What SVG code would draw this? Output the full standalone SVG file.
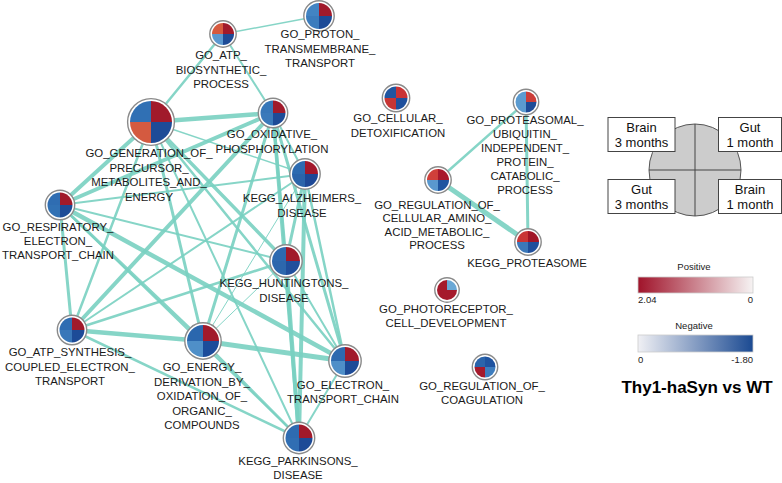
<svg xmlns="http://www.w3.org/2000/svg" xmlns:xlink="http://www.w3.org/1999/xlink" width="782" height="483" viewBox="0 0 782 483">
<style>
.lbl{font-family:"Liberation Sans",Arial,sans-serif;font-size:11.4px;fill:#1a1a1a;text-anchor:middle}
.ring{fill:#fff;stroke:#8a8a8a;stroke-width:1.4}
.e{stroke:#79d0c1;stroke-linecap:round;fill:none;opacity:0.9}
.box{fill:#fff;stroke:#444;stroke-width:1}
.lg{font-family:"Liberation Sans",Arial,sans-serif;font-size:13px;fill:#111;text-anchor:middle}
.sm{font-family:"Liberation Sans",Arial,sans-serif;font-size:9.5px;fill:#222}
</style>
<defs>
<path id="qTL" d="M0,0 L-1,0 A1,1 0 0 1 0,-1 Z"/>
<path id="qTR" d="M0,0 L0,-1 A1,1 0 0 1 1,0 Z"/>
<path id="qBR" d="M0,0 L1,0 A1,1 0 0 1 0,1 Z"/>
<path id="qBL" d="M0,0 L0,1 A1,1 0 0 1 -1,0 Z"/>
<linearGradient id="gPos" x1="0" x2="1" y1="0" y2="0"><stop offset="0" stop-color="#a0132a"/><stop offset="1" stop-color="#f6f3f3"/></linearGradient>
<linearGradient id="gNeg" x1="0" x2="1" y1="0" y2="0"><stop offset="0" stop-color="#f0f0f4"/><stop offset="1" stop-color="#1b4a92"/></linearGradient>
</defs>
<rect width="782" height="483" fill="#fff"/>
<g id="connectors">
<line class="e" x1="223" y1="34" x2="319" y2="16" stroke-width="1.5"/>
<line class="e" x1="223" y1="34" x2="151" y2="122" stroke-width="2.5"/>
<line class="e" x1="223" y1="34" x2="273" y2="113" stroke-width="2"/>
<line class="e" x1="151" y1="122" x2="273" y2="113" stroke-width="4.5"/>
<line class="e" x1="151" y1="122" x2="305" y2="174" stroke-width="1.5"/>
<line class="e" x1="151" y1="122" x2="60" y2="205" stroke-width="4"/>
<line class="e" x1="151" y1="122" x2="72" y2="330" stroke-width="2.5"/>
<line class="e" x1="151" y1="122" x2="203" y2="341" stroke-width="3"/>
<line class="e" x1="151" y1="122" x2="286" y2="261" stroke-width="3.5"/>
<line class="e" x1="151" y1="122" x2="345" y2="361" stroke-width="2.5"/>
<line class="e" x1="151" y1="122" x2="299" y2="438" stroke-width="2"/>
<line class="e" x1="273" y1="113" x2="60" y2="205" stroke-width="4"/>
<line class="e" x1="273" y1="113" x2="72" y2="330" stroke-width="4"/>
<line class="e" x1="273" y1="113" x2="203" y2="341" stroke-width="3"/>
<line class="e" x1="273" y1="113" x2="305" y2="174" stroke-width="2"/>
<line class="e" x1="273" y1="113" x2="286" y2="261" stroke-width="3"/>
<line class="e" x1="273" y1="113" x2="345" y2="361" stroke-width="3"/>
<line class="e" x1="273" y1="113" x2="299" y2="438" stroke-width="3.5"/>
<line class="e" x1="305" y1="174" x2="60" y2="205" stroke-width="2"/>
<line class="e" x1="305" y1="174" x2="72" y2="330" stroke-width="2"/>
<line class="e" x1="305" y1="174" x2="203" y2="341" stroke-width="1"/>
<line class="e" x1="305" y1="174" x2="286" y2="261" stroke-width="3"/>
<line class="e" x1="305" y1="174" x2="345" y2="361" stroke-width="2.5"/>
<line class="e" x1="305" y1="174" x2="299" y2="438" stroke-width="4"/>
<line class="e" x1="286" y1="261" x2="60" y2="205" stroke-width="2"/>
<line class="e" x1="286" y1="261" x2="72" y2="330" stroke-width="2.5"/>
<line class="e" x1="286" y1="261" x2="203" y2="341" stroke-width="1"/>
<line class="e" x1="286" y1="261" x2="345" y2="361" stroke-width="2"/>
<line class="e" x1="286" y1="261" x2="299" y2="438" stroke-width="4"/>
<line class="e" x1="60" y1="205" x2="72" y2="330" stroke-width="3"/>
<line class="e" x1="60" y1="205" x2="203" y2="341" stroke-width="3"/>
<line class="e" x1="60" y1="205" x2="345" y2="361" stroke-width="4.5"/>
<line class="e" x1="60" y1="205" x2="299" y2="438" stroke-width="2"/>
<line class="e" x1="72" y1="330" x2="203" y2="341" stroke-width="4.5"/>
<line class="e" x1="72" y1="330" x2="299" y2="438" stroke-width="2.5"/>
<line class="e" x1="203" y1="341" x2="345" y2="361" stroke-width="5"/>
<line class="e" x1="203" y1="341" x2="299" y2="438" stroke-width="2.5"/>
<line class="e" x1="345" y1="361" x2="299" y2="438" stroke-width="2"/>
<line class="e" x1="438" y1="180" x2="526" y2="102" stroke-width="2.5"/>
<line class="e" x1="438" y1="180" x2="528" y2="242" stroke-width="5"/>
<line class="e" x1="526" y1="102" x2="528" y2="242" stroke-width="3"/>
</g>
<g id="n_proton"><circle class="ring" cx="319" cy="16" r="15.2"/><g transform="translate(319,16) scale(13)"><use href="#qTL" fill="#4284c3"/><use href="#qTR" fill="#a11a2b"/><use href="#qBL" fill="#3b7cbd"/><use href="#qBR" fill="#1d4b97"/></g>
<text class="lbl" x="320" y="38"><tspan x="320">GO_PROTON_</tspan><tspan x="320" dy="14.5">TRANSMEMBRANE_</tspan><tspan x="320" dy="14.5">TRANSPORT</tspan></text></g>
<g id="n_atpbio"><circle class="ring" cx="223" cy="34" r="13.2"/><g transform="translate(223,34) scale(11)"><use href="#qTL" fill="#d75a3e"/><use href="#qTR" fill="#a11a2b"/><use href="#qBL" fill="#5b98cf"/><use href="#qBR" fill="#1d4b97"/></g>
<text class="lbl" x="221" y="59"><tspan x="221">GO_ATP_</tspan><tspan x="221" dy="14.5">BIOSYNTHETIC_</tspan><tspan x="221" dy="14.5">PROCESS</tspan></text></g>
<g id="n_generation"><circle class="ring" cx="151" cy="122" r="23.4"/><g transform="translate(151,122) scale(21)"><use href="#qTL" fill="#3070b4"/><use href="#qTR" fill="#a11a2b"/><use href="#qBL" fill="#d45a40"/><use href="#qBR" fill="#1d4b97"/></g>
<text class="lbl" x="149" y="157"><tspan x="149">GO_GENERATION_OF_</tspan><tspan x="149" dy="14.5">PRECURSOR_</tspan><tspan x="149" dy="14.5">METABOLITES_AND_</tspan><tspan x="149" dy="14.5">ENERGY</tspan></text></g>
<g id="n_oxidative"><circle class="ring" cx="273" cy="113" r="14.7"/><g transform="translate(273,113) scale(12.5)"><use href="#qTL" fill="#3776b8"/><use href="#qTR" fill="#a11a2b"/><use href="#qBL" fill="#3a79ba"/><use href="#qBR" fill="#1d4b97"/></g>
<text class="lbl" x="272" y="138"><tspan x="272">GO_OXIDATIVE_</tspan><tspan x="272" dy="14.5">PHOSPHORYLATION</tspan></text></g>
<g id="n_alzheimers"><circle class="ring" cx="305" cy="174" r="15.2"/><g transform="translate(305,174) scale(13)"><use href="#qTL" fill="#2d6ab0"/><use href="#qTR" fill="#a3182b"/><use href="#qBL" fill="#2b64aa"/><use href="#qBR" fill="#1d4896"/></g>
<text class="lbl" x="302" y="202"><tspan x="302">KEGG_ALZHEIMERS_</tspan><tspan x="302" dy="14.5">DISEASE</tspan></text></g>
<g id="n_huntingtons"><circle class="ring" cx="286" cy="261" r="16.2"/><g transform="translate(286,261) scale(14)"><use href="#qTL" fill="#2e6ab0"/><use href="#qTR" fill="#a11a2b"/><use href="#qBL" fill="#2d67ad"/><use href="#qBR" fill="#214f9c"/></g>
<text class="lbl" x="284" y="287"><tspan x="284">KEGG_HUNTINGTONS_</tspan><tspan x="284" dy="14.5">DISEASE</tspan></text></g>
<g id="n_respiratory"><circle class="ring" cx="60" cy="205" r="14.7"/><g transform="translate(60,205) scale(12.5)"><use href="#qTL" fill="#2f6db2"/><use href="#qTR" fill="#a11a2b"/><use href="#qBL" fill="#3171b4"/><use href="#qBR" fill="#1d4b97"/></g>
<text class="lbl" x="58" y="231"><tspan x="58">GO_RESPIRATORY_</tspan><tspan x="58" dy="14">ELECTRON_</tspan><tspan x="58" dy="14">TRANSPORT_CHAIN</tspan></text></g>
<g id="n_atpsynth"><circle class="ring" cx="72" cy="330" r="14.7"/><g transform="translate(72,330) scale(12.5)"><use href="#qTL" fill="#2f6db2"/><use href="#qTR" fill="#a11a2b"/><use href="#qBL" fill="#3977b9"/><use href="#qBR" fill="#1d4b97"/></g>
<text class="lbl" x="70" y="356"><tspan x="70">GO_ATP_SYNTHESIS_</tspan><tspan x="70" dy="14.5">COUPLED_ELECTRON_</tspan><tspan x="70" dy="14.5">TRANSPORT</tspan></text></g>
<g id="n_energy"><circle class="ring" cx="203" cy="341" r="18.2"/><g transform="translate(203,341) scale(16)"><use href="#qTL" fill="#2b67ae"/><use href="#qTR" fill="#a11a2b"/><use href="#qBL" fill="#4f8fc8"/><use href="#qBR" fill="#1c4c9a"/></g>
<text class="lbl" x="202" y="371"><tspan x="202">GO_ENERGY_</tspan><tspan x="202" dy="14.5">DERIVATION_BY_</tspan><tspan x="202" dy="14.5">OXIDATION_OF_</tspan><tspan x="202" dy="14.5">ORGANIC_</tspan><tspan x="202" dy="14.5">COMPOUNDS</tspan></text></g>
<g id="n_etc"><circle class="ring" cx="345" cy="361" r="16.2"/><g transform="translate(345,361) scale(14)"><use href="#qTL" fill="#2d69af"/><use href="#qTR" fill="#a11a2b"/><use href="#qBL" fill="#4f8fc8"/><use href="#qBR" fill="#1d4b97"/></g>
<text class="lbl" x="343" y="389"><tspan x="343">GO_ELECTRON_</tspan><tspan x="343" dy="14">TRANSPORT_CHAIN</tspan></text></g>
<g id="n_parkinsons"><circle class="ring" cx="299" cy="438" r="15.7"/><g transform="translate(299,438) scale(13.5)"><use href="#qTL" fill="#2e6bb1"/><use href="#qTR" fill="#a11a2b"/><use href="#qBL" fill="#306eb3"/><use href="#qBR" fill="#1d4b97"/></g>
<text class="lbl" x="298" y="465"><tspan x="298">KEGG_PARKINSONS_</tspan><tspan x="298" dy="14">DISEASE</tspan></text></g>
<g id="n_detox"><circle class="ring" cx="396" cy="98" r="13.7"/><g transform="translate(396,98) scale(11.5)"><use href="#qTL" fill="#1f55a0"/><use href="#qTR" fill="#c93234"/><use href="#qBL" fill="#c63534"/><use href="#qBR" fill="#1e4f9c"/></g>
<text class="lbl" x="398" y="122"><tspan x="398">GO_CELLULAR_</tspan><tspan x="398" dy="14.5">DETOXIFICATION</tspan></text></g>
<g id="n_proteasomal"><circle class="ring" cx="526" cy="102" r="12.7"/><g transform="translate(526,102) scale(10.5)"><use href="#qTL" fill="#5b9bd0"/><use href="#qTR" fill="#cc3d38"/><use href="#qBL" fill="#5b9bd0"/><use href="#qBR" fill="#1d4b97"/></g>
<text class="lbl" x="525" y="124"><tspan x="525">GO_PROTEASOMAL_</tspan><tspan x="525" dy="14">UBIQUITIN_</tspan><tspan x="525" dy="14">INDEPENDENT_</tspan><tspan x="525" dy="14">PROTEIN_</tspan><tspan x="525" dy="14">CATABOLIC_</tspan><tspan x="525" dy="14">PROCESS</tspan></text></g>
<g id="n_regamino"><circle class="ring" cx="438" cy="180" r="13.2"/><g transform="translate(438,180) scale(11)"><use href="#qTL" fill="#d0403a"/><use href="#qTR" fill="#a8182b"/><use href="#qBL" fill="#5a98ce"/><use href="#qBR" fill="#1f55a0"/></g>
<text class="lbl" x="437" y="209"><tspan x="437">GO_REGULATION_OF_</tspan><tspan x="437" dy="13.3">CELLULAR_AMINO_</tspan><tspan x="437" dy="13.3">ACID_METABOLIC_</tspan><tspan x="437" dy="13.3">PROCESS</tspan></text></g>
<g id="n_keggproteasome"><circle class="ring" cx="528" cy="242" r="13.2"/><g transform="translate(528,242) scale(11)"><use href="#qTL" fill="#c93535"/><use href="#qTR" fill="#a11526"/><use href="#qBL" fill="#3b78b9"/><use href="#qBR" fill="#1f4f9c"/></g>
<text class="lbl" x="527" y="267">KEGG_PROTEASOME</text></g>
<g id="n_photoreceptor"><circle class="ring" cx="447" cy="290" r="12.2"/><g transform="translate(447,290) scale(10)"><use href="#qTL" fill="#a51a2c"/><use href="#qTR" fill="#6aa8d6"/><use href="#qBL" fill="#a51a2c"/><use href="#qBR" fill="#a51a2c"/></g>
<text class="lbl" x="446" y="313"><tspan x="446">GO_PHOTORECEPTOR_</tspan><tspan x="446" dy="14">CELL_DEVELOPMENT</tspan></text></g>
<g id="n_coagulation"><circle class="ring" cx="485" cy="367" r="12.7"/><g transform="translate(485,367) scale(10.5)"><use href="#qTL" fill="#2a64ab"/><use href="#qTR" fill="#1f53a0"/><use href="#qBL" fill="#a51a2c"/><use href="#qBR" fill="#3e7dbe"/></g>
<text class="lbl" x="482" y="390"><tspan x="482">GO_REGULATION_OF_</tspan><tspan x="482" dy="13.5">COAGULATION</tspan></text></g>
<g id="legend">
<circle cx="695" cy="170" r="46" fill="#cccccc" stroke="#555" stroke-width="1"/>
<line x1="695" y1="124" x2="695" y2="216" stroke="#444" stroke-width="1"/>
<line x1="649" y1="170" x2="741" y2="170" stroke="#444" stroke-width="1"/>
<rect class="box" x="608" y="117.5" width="67" height="34"/>
<text class="lg" x="641.5" y="132"><tspan x="641.5">Brain</tspan><tspan x="641.5" dy="15">3 months</tspan></text>
<rect class="box" x="718.5" y="117.5" width="63" height="34"/>
<text class="lg" x="750" y="132"><tspan x="750">Gut</tspan><tspan x="750" dy="15">1 month</tspan></text>
<rect class="box" x="608" y="179.5" width="67" height="34"/>
<text class="lg" x="641.5" y="194"><tspan x="641.5">Gut</tspan><tspan x="641.5" dy="15">3 months</tspan></text>
<rect class="box" x="718.5" y="179.5" width="63" height="34"/>
<text class="lg" x="750" y="194"><tspan x="750">Brain</tspan><tspan x="750" dy="15">1 month</tspan></text>
<text class="sm" x="694" y="270" text-anchor="middle">Positive</text>
<rect x="638" y="277" width="115" height="16" fill="url(#gPos)" stroke="#ccc" stroke-width="0.8"/>
<text class="sm" x="638" y="303">2.04</text>
<text class="sm" x="753" y="303" text-anchor="end">0</text>
<text class="sm" x="694" y="329" text-anchor="middle">Negative</text>
<rect x="638" y="335" width="115" height="17" fill="url(#gNeg)" stroke="#ccc" stroke-width="0.8"/>
<text class="sm" x="638" y="363">0</text>
<text class="sm" x="753" y="363" text-anchor="end">-1.80</text>
<text x="697" y="393" text-anchor="middle" style="font-family:'Liberation Sans',Arial,sans-serif;font-size:17px;font-weight:bold;fill:#000">Thy1-haSyn vs WT</text>
</g>
</svg>
